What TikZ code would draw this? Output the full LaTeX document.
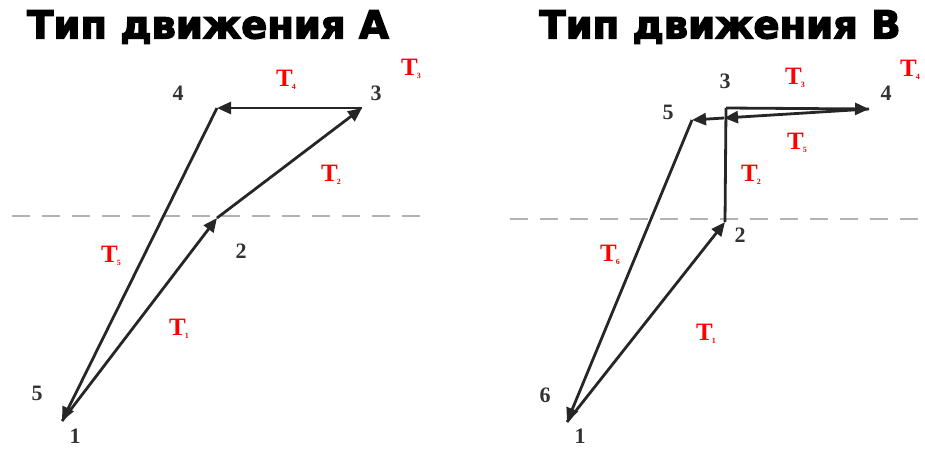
\documentclass[tikz,border=0pt]{standalone}
\usepackage{fontspec}
\setmainfont{Liberation Serif}
\newfontfamily\titlefont[FakeBold=3.5]{DejaVu Sans Bold}
\usetikzlibrary{arrows.meta}
\begin{document}
\begin{tikzpicture}[x=1pt,y=-1pt,
  move/.style={line width=2.8pt,draw=black!85,-{Triangle[length=14pt,width=12pt]}},
  plain/.style={line width=2.8pt,draw=black!85},
  guide/.style={line width=1.4pt,draw=black!30,dash pattern=on 18pt off 12pt},
  num/.style={font=\fontsize{22}{22}\selectfont\bfseries,text=black!80,inner sep=0pt},
  tlab/.style={font=\fontsize{25}{25}\selectfont\bfseries,text=red,inner sep=0pt},
  ttl/.style={font=\titlefont\fontsize{38.5}{38.5}\selectfont,inner sep=0pt}]
\useasboundingbox (0,0) rectangle (925,450);
\newcommand{\Tl}[1]{T\kern-1pt\raisebox{-0.25ex}{\fontsize{8}{8}\selectfont #1}}
% titles
\node[ttl] (titleA) at (208,27) {Тип движения А};
\node[ttl] (titleB) at (720,27) {Тип движения В};
% guides
\coordinate (gA1) at (12,216); \coordinate (gA2) at (425,216);
\coordinate (gB1) at (510,219); \coordinate (gB2) at (928,219);
\draw[guide] (gA1) -- (gA2);
\draw[guide] (gB1) -- (gB2);
% ---------- A
\coordinate (A1) at (62,421);
\coordinate (A2) at (217,218);
\coordinate (A3) at (362,108);
\coordinate (A4) at (217,108);
\draw[move] (A1) -- (A2);
\draw[move] (A2) -- (A3);
\draw[move] (A3) -- (A4);
\draw[move] (A4) -- (A1);
\node[num] (nA4) at (178,93) {4};
\node[num] (nA3) at (376,93) {3};
\node[num] (nA2) at (241,251) {2};
\node[num] (nA5) at (37,393) {5};
\node[num] (nA1) at (75,436) {1};
\node[tlab] (tA4) at (286,80) {\Tl{4}};
\node[tlab] (tA3) at (411,69) {\Tl{3}};
\node[tlab] (tA2) at (331,175) {\Tl{2}};
\node[tlab] (tA5) at (111,256) {\Tl{5}};
\node[tlab] (tA1) at (179,329) {\Tl{1}};
% ---------- B
\coordinate (B1) at (567,422);
\coordinate (B2) at (725,222);
\coordinate (B3) at (726,108);
\coordinate (B4) at (869,109);
\coordinate (B3b) at (724,118);
\coordinate (B5) at (692,120);
\draw[move] (B1) -- (B2);
\draw[plain] (B2) -- (B3);
\draw[move] (B3) -- (B4);
\draw[move] (B4) -- (B3b);
\draw[move] (B3b) -- (B5);
\draw[move] (B5) -- (B1);
\node[num] (nB3) at (725,81) {3};
\node[num] (nB5) at (668,112) {5};
\node[num] (nB4) at (886,93) {4};
\node[num] (nB2) at (740,235) {2};
\node[num] (nB6) at (545,395) {6};
\node[num] (nB1) at (580,436) {1};
\node[tlab] (tB3) at (795,78) {\Tl{3}};
\node[tlab] (tB4) at (910,70) {\Tl{4}};
\node[tlab] (tB5) at (797,143) {\Tl{5}};
\node[tlab] (tB2) at (751,175) {\Tl{2}};
\node[tlab] (tB6) at (610,255) {\Tl{6}};
\node[tlab] (tB1) at (706,334) {\Tl{1}};
\end{tikzpicture}
\end{document}
